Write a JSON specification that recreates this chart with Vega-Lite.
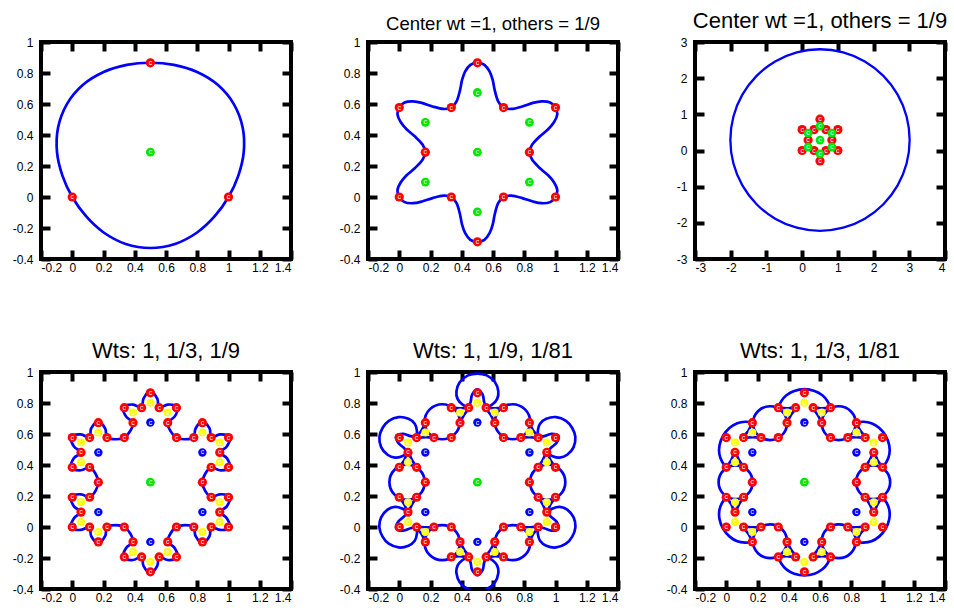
{
"$schema": "https://vega.github.io/schema/vega-lite/v6.json",
"background": "white",
"padding": {"left": 10, "top": 8, "right": 0, "bottom": 0},
"config": {
  "view": {"stroke": "black", "strokeWidth": 4},
  "axis": {"domain": false, "grid": false, "tickColor": "black", "tickWidth": 4, "tickSize": -9, "labelFont": "Liberation Sans", "labelFontSize": 12, "labelColor": "black"},
  "title": {"font": "Liberation Sans", "fontSize": 22, "fontWeight": "normal", "color": "black", "anchor": "middle", "offset": 3, "baseline": "alphabetic"}
},
"datasets": {
  "c1": [
    {"i":0,"x":0.5,"y":0.866},{"i":1,"x":0.349,"y":0.852},{"i":2,"x":0.201,"y":0.806},{"i":3,"x":0.067,"y":0.722},{"i":4,"x":-0.035,"y":0.598},{"i":5,"x":-0.091,"y":0.447},{"i":6,"x":-0.0975,"y":0.289},{"i":7,"x":-0.063,"y":0.138},{"i":8,"x":0,"y":0},{"i":9,"x":0.088,"y":-0.124},{"i":10,"x":0.201,"y":-0.229},{"i":11,"x":0.342,"y":-0.303},{"i":12,"x":0.5,"y":-0.329},{"i":13,"x":0.658,"y":-0.303},{"i":14,"x":0.799,"y":-0.229},{"i":15,"x":0.912,"y":-0.124},{"i":16,"x":1,"y":0},{"i":17,"x":1.063,"y":0.138},{"i":18,"x":1.0975,"y":0.289},{"i":19,"x":1.091,"y":0.447},{"i":20,"x":1.035,"y":0.598},{"i":21,"x":0.933,"y":0.722},{"i":22,"x":0.799,"y":0.806},{"i":23,"x":0.651,"y":0.852}
  ],
  "c2": [
    {"i":0,"x":0.5,"y":0.866},{"i":1,"x":0.455,"y":0.853},{"i":2,"x":0.422,"y":0.81},{"i":3,"x":0.402,"y":0.755},{"i":4,"x":0.388,"y":0.685},{"i":5,"x":0.367,"y":0.617},{"i":6,"x":0.333,"y":0.577},{"i":7,"x":0.282,"y":0.568},{"i":8,"x":0.213,"y":0.584},{"i":9,"x":0.145,"y":0.607},{"i":10,"x":0.088,"y":0.617},{"i":11,"x":0.034,"y":0.61},
    {"i":12,"x":0,"y":0.577},{"i":13,"x":-0.011,"y":0.532},{"i":14,"x":0.01,"y":0.482},{"i":15,"x":0.047,"y":0.437},{"i":16,"x":0.101,"y":0.39},{"i":17,"x":0.149,"y":0.338},{"i":18,"x":0.167,"y":0.288},{"i":19,"x":0.149,"y":0.24},{"i":20,"x":0.101,"y":0.187},{"i":21,"x":0.047,"y":0.14},{"i":22,"x":0.01,"y":0.095},{"i":23,"x":-0.011,"y":0.046},
    {"i":24,"x":0,"y":0},{"i":25,"x":0.034,"y":-0.033},{"i":26,"x":0.088,"y":-0.04},{"i":27,"x":0.145,"y":-0.029},{"i":28,"x":0.213,"y":-0.007},{"i":29,"x":0.282,"y":0.009},{"i":30,"x":0.334,"y":0},{"i":31,"x":0.367,"y":-0.04},{"i":32,"x":0.388,"y":-0.108},{"i":33,"x":0.402,"y":-0.178},{"i":34,"x":0.422,"y":-0.233},{"i":35,"x":0.455,"y":-0.276},
    {"i":36,"x":0.5,"y":-0.289},{"i":37,"x":0.545,"y":-0.276},{"i":38,"x":0.578,"y":-0.233},{"i":39,"x":0.598,"y":-0.178},{"i":40,"x":0.612,"y":-0.108},{"i":41,"x":0.633,"y":-0.04},{"i":42,"x":0.667,"y":0},{"i":43,"x":0.718,"y":0.009},{"i":44,"x":0.787,"y":-0.007},{"i":45,"x":0.855,"y":-0.029},{"i":46,"x":0.912,"y":-0.04},{"i":47,"x":0.966,"y":-0.033},
    {"i":48,"x":1,"y":0},{"i":49,"x":1.011,"y":0.046},{"i":50,"x":0.99,"y":0.095},{"i":51,"x":0.953,"y":0.14},{"i":52,"x":0.899,"y":0.187},{"i":53,"x":0.851,"y":0.24},{"i":54,"x":0.833,"y":0.289},{"i":55,"x":0.851,"y":0.338},{"i":56,"x":0.899,"y":0.39},{"i":57,"x":0.953,"y":0.437},{"i":58,"x":0.99,"y":0.482},{"i":59,"x":1.011,"y":0.532},
    {"i":60,"x":1,"y":0.577},{"i":61,"x":0.966,"y":0.61},{"i":62,"x":0.912,"y":0.617},{"i":63,"x":0.855,"y":0.607},{"i":64,"x":0.787,"y":0.584},{"i":65,"x":0.718,"y":0.568},{"i":66,"x":0.666,"y":0.577},{"i":67,"x":0.633,"y":0.617},{"i":68,"x":0.612,"y":0.685},{"i":69,"x":0.598,"y":0.755},{"i":70,"x":0.578,"y":0.81},{"i":71,"x":0.545,"y":0.853}
  ],
  "c3": [
    {"i":0,"x":3.01,"y":0.289},{"i":1,"x":2.924,"y":0.939},{"i":2,"x":2.674,"y":1.544},{"i":3,"x":2.275,"y":2.064},{"i":4,"x":1.755,"y":2.463},{"i":5,"x":1.15,"y":2.713},{"i":6,"x":0.5,"y":2.799},{"i":7,"x":-0.15,"y":2.713},{"i":8,"x":-0.755,"y":2.463},{"i":9,"x":-1.275,"y":2.064},{"i":10,"x":-1.674,"y":1.544},{"i":11,"x":-1.924,"y":0.939},{"i":12,"x":-2.01,"y":0.289},{"i":13,"x":-1.924,"y":-0.361},{"i":14,"x":-1.674,"y":-0.966},{"i":15,"x":-1.275,"y":-1.486},{"i":16,"x":-0.755,"y":-1.885},{"i":17,"x":-0.15,"y":-2.135},{"i":18,"x":0.5,"y":-2.221},{"i":19,"x":1.15,"y":-2.135},{"i":20,"x":1.755,"y":-1.885},{"i":21,"x":2.275,"y":-1.486},{"i":22,"x":2.674,"y":-0.966},{"i":23,"x":2.924,"y":-0.361}
  ],
  "c4": [
    {"i":0,"x":0.5,"y":0.876},{"i":1,"x":0.456,"y":0.828},{"i":2,"x":0.444,"y":0.77},{"i":3,"x":0.389,"y":0.79},{"i":4,"x":0.326,"y":0.774},{"i":5,"x":0.345,"y":0.712},{"i":6,"x":0.389,"y":0.673},{"i":7,"x":0.371,"y":0.619},{"i":8,"x":0.333,"y":0.577},{"i":9,"x":0.279,"y":0.566},{"i":10,"x":0.223,"y":0.577},{"i":11,"x":0.211,"y":0.635},{"i":12,"x":0.167,"y":0.682},{"i":13,"x":0.121,"y":0.636},{"i":14,"x":0.111,"y":0.578},{"i":15,"x":0.055,"y":0.597},
    {"i":16,"x":-0.009,"y":0.582},{"i":17,"x":0.011,"y":0.52},{"i":18,"x":0.055,"y":0.481},{"i":19,"x":0.01,"y":0.443},{"i":20,"x":-0.007,"y":0.381},{"i":21,"x":0.056,"y":0.366},{"i":22,"x":0.112,"y":0.385},{"i":23,"x":0.15,"y":0.342},{"i":24,"x":0.167,"y":0.288},{"i":25,"x":0.15,"y":0.235},{"i":26,"x":0.112,"y":0.193},{"i":27,"x":0.056,"y":0.211},{"i":28,"x":-0.007,"y":0.197},{"i":29,"x":0.01,"y":0.134},{"i":30,"x":0.055,"y":0.097},{"i":31,"x":0.011,"y":0.057},
    {"i":32,"x":-0.009,"y":-0.005},{"i":33,"x":0.055,"y":-0.019},{"i":34,"x":0.111,"y":-0.001},{"i":35,"x":0.121,"y":-0.058},{"i":36,"x":0.167,"y":-0.105},{"i":37,"x":0.211,"y":-0.057},{"i":38,"x":0.223,"y":0},{"i":39,"x":0.279,"y":0.012},{"i":40,"x":0.334,"y":0},{"i":41,"x":0.371,"y":-0.042},{"i":42,"x":0.389,"y":-0.096},{"i":43,"x":0.345,"y":-0.135},{"i":44,"x":0.326,"y":-0.197},{"i":45,"x":0.389,"y":-0.213},{"i":46,"x":0.444,"y":-0.193},{"i":47,"x":0.456,"y":-0.251},
    {"i":48,"x":0.5,"y":-0.299},{"i":49,"x":0.544,"y":-0.251},{"i":50,"x":0.556,"y":-0.193},{"i":51,"x":0.611,"y":-0.213},{"i":52,"x":0.674,"y":-0.197},{"i":53,"x":0.655,"y":-0.135},{"i":54,"x":0.611,"y":-0.096},{"i":55,"x":0.629,"y":-0.042},{"i":56,"x":0.667,"y":0},{"i":57,"x":0.722,"y":0.012},{"i":58,"x":0.777,"y":0},{"i":59,"x":0.789,"y":-0.057},{"i":60,"x":0.833,"y":-0.105},{"i":61,"x":0.879,"y":-0.058},{"i":62,"x":0.889,"y":-0.001},{"i":63,"x":0.945,"y":-0.019},
    {"i":64,"x":1.009,"y":-0.005},{"i":65,"x":0.989,"y":0.057},{"i":66,"x":0.945,"y":0.097},{"i":67,"x":0.99,"y":0.134},{"i":68,"x":1.007,"y":0.197},{"i":69,"x":0.944,"y":0.211},{"i":70,"x":0.888,"y":0.193},{"i":71,"x":0.85,"y":0.235},{"i":72,"x":0.833,"y":0.289},{"i":73,"x":0.85,"y":0.342},{"i":74,"x":0.888,"y":0.385},{"i":75,"x":0.944,"y":0.366},{"i":76,"x":1.007,"y":0.381},{"i":77,"x":0.99,"y":0.443},{"i":78,"x":0.945,"y":0.481},{"i":79,"x":0.989,"y":0.52},
    {"i":80,"x":1.009,"y":0.582},{"i":81,"x":0.945,"y":0.597},{"i":82,"x":0.889,"y":0.578},{"i":83,"x":0.879,"y":0.636},{"i":84,"x":0.833,"y":0.682},{"i":85,"x":0.789,"y":0.635},{"i":86,"x":0.777,"y":0.577},{"i":87,"x":0.722,"y":0.566},{"i":88,"x":0.666,"y":0.577},{"i":89,"x":0.629,"y":0.619},{"i":90,"x":0.611,"y":0.673},{"i":91,"x":0.655,"y":0.712},{"i":92,"x":0.674,"y":0.774},{"i":93,"x":0.611,"y":0.79},{"i":94,"x":0.556,"y":0.77},{"i":95,"x":0.544,"y":0.828}
  ],
  "arc5": [
    {"g":"k0","i":0,"x":0.444,"y":0.77},{"g":"k0","i":1,"x":0.405,"y":0.79},{"g":"k0","i":2,"x":0.374,"y":0.825},{"g":"k0","i":3,"x":0.366,"y":0.875},{"g":"k0","i":4,"x":0.388,"y":0.935},{"g":"k0","i":5,"x":0.44,"y":0.978},{"g":"k0","i":6,"x":0.5,"y":0.99},{"g":"k0","i":7,"x":0.56,"y":0.978},{"g":"k0","i":8,"x":0.612,"y":0.935},{"g":"k0","i":9,"x":0.634,"y":0.875},{"g":"k0","i":10,"x":0.626,"y":0.825},{"g":"k0","i":11,"x":0.595,"y":0.79},{"g":"k0","i":12,"x":0.556,"y":0.77},
    {"g":"k1","i":0,"x":0.055,"y":0.481},{"g":"k1","i":1,"x":0.018,"y":0.457},{"g":"k1","i":2,"x":-0.027,"y":0.448},{"g":"k1","i":3,"x":-0.075,"y":0.466},{"g":"k1","i":4,"x":-0.116,"y":0.515},{"g":"k1","i":5,"x":-0.127,"y":0.581},{"g":"k1","i":6,"x":-0.107,"y":0.639},{"g":"k1","i":7,"x":-0.067,"y":0.685},{"g":"k1","i":8,"x":-0.004,"y":0.709},{"g":"k1","i":9,"x":0.059,"y":0.698},{"g":"k1","i":10,"x":0.099,"y":0.666},{"g":"k1","i":11,"x":0.113,"y":0.622},{"g":"k1","i":12,"x":0.111,"y":0.578},
    {"g":"k2","i":0,"x":0.111,"y":-0.001},{"g":"k2","i":1,"x":0.113,"y":-0.044},{"g":"k2","i":2,"x":0.099,"y":-0.089},{"g":"k2","i":3,"x":0.059,"y":-0.121},{"g":"k2","i":4,"x":-0.004,"y":-0.132},{"g":"k2","i":5,"x":-0.067,"y":-0.108},{"g":"k2","i":6,"x":-0.107,"y":-0.062},{"g":"k2","i":7,"x":-0.127,"y":-0.004},{"g":"k2","i":8,"x":-0.116,"y":0.062},{"g":"k2","i":9,"x":-0.075,"y":0.112},{"g":"k2","i":10,"x":-0.027,"y":0.13},{"g":"k2","i":11,"x":0.018,"y":0.12},{"g":"k2","i":12,"x":0.055,"y":0.097},
    {"g":"k3","i":0,"x":0.556,"y":-0.193},{"g":"k3","i":1,"x":0.595,"y":-0.213},{"g":"k3","i":2,"x":0.626,"y":-0.248},{"g":"k3","i":3,"x":0.634,"y":-0.298},{"g":"k3","i":4,"x":0.612,"y":-0.358},{"g":"k3","i":5,"x":0.56,"y":-0.401},{"g":"k3","i":6,"x":0.5,"y":-0.413},{"g":"k3","i":7,"x":0.44,"y":-0.401},{"g":"k3","i":8,"x":0.388,"y":-0.358},{"g":"k3","i":9,"x":0.366,"y":-0.298},{"g":"k3","i":10,"x":0.374,"y":-0.248},{"g":"k3","i":11,"x":0.405,"y":-0.213},{"g":"k3","i":12,"x":0.444,"y":-0.193},
    {"g":"k4","i":0,"x":0.945,"y":0.097},{"g":"k4","i":1,"x":0.982,"y":0.12},{"g":"k4","i":2,"x":1.027,"y":0.13},{"g":"k4","i":3,"x":1.075,"y":0.112},{"g":"k4","i":4,"x":1.116,"y":0.062},{"g":"k4","i":5,"x":1.127,"y":-0.004},{"g":"k4","i":6,"x":1.107,"y":-0.062},{"g":"k4","i":7,"x":1.067,"y":-0.108},{"g":"k4","i":8,"x":1.004,"y":-0.132},{"g":"k4","i":9,"x":0.941,"y":-0.121},{"g":"k4","i":10,"x":0.901,"y":-0.089},{"g":"k4","i":11,"x":0.887,"y":-0.044},{"g":"k4","i":12,"x":0.889,"y":-0.001},
    {"g":"k5","i":0,"x":0.889,"y":0.578},{"g":"k5","i":1,"x":0.887,"y":0.622},{"g":"k5","i":2,"x":0.901,"y":0.666},{"g":"k5","i":3,"x":0.941,"y":0.698},{"g":"k5","i":4,"x":1.004,"y":0.709},{"g":"k5","i":5,"x":1.067,"y":0.685},{"g":"k5","i":6,"x":1.107,"y":0.639},{"g":"k5","i":7,"x":1.127,"y":0.581},{"g":"k5","i":8,"x":1.116,"y":0.515},{"g":"k5","i":9,"x":1.075,"y":0.466},{"g":"k5","i":10,"x":1.027,"y":0.448},{"g":"k5","i":11,"x":0.982,"y":0.457},{"g":"k5","i":12,"x":0.945,"y":0.481},
    {"g":"n0","i":0,"x":0.444,"y":0.77},{"g":"n0","i":1,"x":0.457,"y":0.808},{"g":"n0","i":2,"x":0.467,"y":0.855},{"g":"n0","i":3,"x":0.5,"y":0.888},{"g":"n0","i":4,"x":0.533,"y":0.855},{"g":"n0","i":5,"x":0.543,"y":0.808},{"g":"n0","i":6,"x":0.556,"y":0.77},
    {"g":"n1","i":0,"x":0.055,"y":0.481},{"g":"n1","i":1,"x":0.029,"y":0.511},{"g":"n1","i":2,"x":-0.007,"y":0.543},{"g":"n1","i":3,"x":-0.019,"y":0.588},{"g":"n1","i":4,"x":0.026,"y":0.601},{"g":"n1","i":5,"x":0.072,"y":0.586},{"g":"n1","i":6,"x":0.111,"y":0.578},
    {"g":"n2","i":0,"x":0.111,"y":-0.001},{"g":"n2","i":1,"x":0.072,"y":-0.008},{"g":"n2","i":2,"x":0.026,"y":-0.023},{"g":"n2","i":3,"x":-0.019,"y":-0.011},{"g":"n2","i":4,"x":-0.007,"y":0.034},{"g":"n2","i":5,"x":0.029,"y":0.066},{"g":"n2","i":6,"x":0.055,"y":0.097},
    {"g":"n3","i":0,"x":0.556,"y":-0.193},{"g":"n3","i":1,"x":0.543,"y":-0.231},{"g":"n3","i":2,"x":0.533,"y":-0.278},{"g":"n3","i":3,"x":0.5,"y":-0.311},{"g":"n3","i":4,"x":0.467,"y":-0.278},{"g":"n3","i":5,"x":0.457,"y":-0.231},{"g":"n3","i":6,"x":0.444,"y":-0.193},
    {"g":"n4","i":0,"x":0.945,"y":0.097},{"g":"n4","i":1,"x":0.971,"y":0.066},{"g":"n4","i":2,"x":1.007,"y":0.034},{"g":"n4","i":3,"x":1.019,"y":-0.011},{"g":"n4","i":4,"x":0.974,"y":-0.023},{"g":"n4","i":5,"x":0.928,"y":-0.008},{"g":"n4","i":6,"x":0.889,"y":-0.001},
    {"g":"n5","i":0,"x":0.889,"y":0.578},{"g":"n5","i":1,"x":0.928,"y":0.586},{"g":"n5","i":2,"x":0.974,"y":0.601},{"g":"n5","i":3,"x":1.019,"y":0.588},{"g":"n5","i":4,"x":1.007,"y":0.543},{"g":"n5","i":5,"x":0.971,"y":0.511},{"g":"n5","i":6,"x":0.945,"y":0.481}
  ],
  "seg": [
    {"g":"L0","i":0,"x":0.333,"y":0.77},{"g":"L0","i":1,"x":0.389,"y":0.765},{"g":"L0","i":2,"x":0.444,"y":0.77},{"g":"L0","i":3,"x":0.413,"y":0.72},{"g":"L0","i":4,"x":0.389,"y":0.673},
    {"g":"L1","i":0,"x":0,"y":0.385},{"g":"L1","i":1,"x":0.032,"y":0.431},{"g":"L1","i":2,"x":0.055,"y":0.481},{"g":"L1","i":3,"x":0.083,"y":0.429},{"g":"L1","i":4,"x":0.112,"y":0.385},
    {"g":"L2","i":0,"x":0.167,"y":-0.097},{"g":"L2","i":1,"x":0.143,"y":-0.046},{"g":"L2","i":2,"x":0.111,"y":-0.001},{"g":"L2","i":3,"x":0.17,"y":-0.002},{"g":"L2","i":4,"x":0.223,"y":0},
    {"g":"L3","i":0,"x":0.667,"y":-0.193},{"g":"L3","i":1,"x":0.611,"y":-0.188},{"g":"L3","i":2,"x":0.556,"y":-0.193},{"g":"L3","i":3,"x":0.587,"y":-0.143},{"g":"L3","i":4,"x":0.611,"y":-0.096},
    {"g":"L4","i":0,"x":1.0,"y":0.193},{"g":"L4","i":1,"x":0.968,"y":0.147},{"g":"L4","i":2,"x":0.945,"y":0.097},{"g":"L4","i":3,"x":0.917,"y":0.148},{"g":"L4","i":4,"x":0.888,"y":0.193},
    {"g":"L5","i":0,"x":0.833,"y":0.674},{"g":"L5","i":1,"x":0.857,"y":0.623},{"g":"L5","i":2,"x":0.889,"y":0.578},{"g":"L5","i":3,"x":0.83,"y":0.58},{"g":"L5","i":4,"x":0.777,"y":0.577},
    {"g":"R0","i":0,"x":0.667,"y":0.77},{"g":"R0","i":1,"x":0.611,"y":0.765},{"g":"R0","i":2,"x":0.556,"y":0.77},{"g":"R0","i":3,"x":0.587,"y":0.72},{"g":"R0","i":4,"x":0.611,"y":0.673},
    {"g":"R1","i":0,"x":0.167,"y":0.674},{"g":"R1","i":1,"x":0.143,"y":0.623},{"g":"R1","i":2,"x":0.111,"y":0.578},{"g":"R1","i":3,"x":0.17,"y":0.58},{"g":"R1","i":4,"x":0.223,"y":0.577},
    {"g":"R2","i":0,"x":0,"y":0.193},{"g":"R2","i":1,"x":0.032,"y":0.147},{"g":"R2","i":2,"x":0.055,"y":0.097},{"g":"R2","i":3,"x":0.083,"y":0.148},{"g":"R2","i":4,"x":0.112,"y":0.193},
    {"g":"R3","i":0,"x":0.333,"y":-0.193},{"g":"R3","i":1,"x":0.389,"y":-0.188},{"g":"R3","i":2,"x":0.444,"y":-0.193},{"g":"R3","i":3,"x":0.413,"y":-0.143},{"g":"R3","i":4,"x":0.389,"y":-0.096},
    {"g":"R4","i":0,"x":0.833,"y":-0.097},{"g":"R4","i":1,"x":0.857,"y":-0.046},{"g":"R4","i":2,"x":0.889,"y":-0.001},{"g":"R4","i":3,"x":0.83,"y":-0.002},{"g":"R4","i":4,"x":0.777,"y":0},
    {"g":"R5","i":0,"x":1.0,"y":0.385},{"g":"R5","i":1,"x":0.968,"y":0.431},{"g":"R5","i":2,"x":0.945,"y":0.481},{"g":"R5","i":3,"x":0.917,"y":0.429},{"g":"R5","i":4,"x":0.888,"y":0.385}
  ],
  "circ5": [
    {"g":1,"i":0,"x":0.388,"y":0.679},{"g":1,"i":1,"x":0.355,"y":0.759},{"g":1,"i":2,"x":0.275,"y":0.792},{"g":1,"i":3,"x":0.195,"y":0.759},{"g":1,"i":4,"x":0.162,"y":0.679},{"g":1,"i":5,"x":0.195,"y":0.599},{"g":1,"i":6,"x":0.275,"y":0.566},{"g":1,"i":7,"x":0.355,"y":0.599},
    {"g":2,"i":0,"x":0.163,"y":0.289},{"g":2,"i":1,"x":0.13,"y":0.369},{"g":2,"i":2,"x":0.05,"y":0.402},{"g":2,"i":3,"x":-0.03,"y":0.369},{"g":2,"i":4,"x":-0.063,"y":0.289},{"g":2,"i":5,"x":-0.03,"y":0.209},{"g":2,"i":6,"x":0.05,"y":0.176},{"g":2,"i":7,"x":0.13,"y":0.209},
    {"g":3,"i":0,"x":0.388,"y":-0.101},{"g":3,"i":1,"x":0.355,"y":-0.021},{"g":3,"i":2,"x":0.275,"y":0.012},{"g":3,"i":3,"x":0.195,"y":-0.021},{"g":3,"i":4,"x":0.162,"y":-0.101},{"g":3,"i":5,"x":0.195,"y":-0.181},{"g":3,"i":6,"x":0.275,"y":-0.214},{"g":3,"i":7,"x":0.355,"y":-0.181},
    {"g":4,"i":0,"x":0.838,"y":-0.101},{"g":4,"i":1,"x":0.805,"y":-0.021},{"g":4,"i":2,"x":0.725,"y":0.012},{"g":4,"i":3,"x":0.645,"y":-0.021},{"g":4,"i":4,"x":0.612,"y":-0.101},{"g":4,"i":5,"x":0.645,"y":-0.181},{"g":4,"i":6,"x":0.725,"y":-0.214},{"g":4,"i":7,"x":0.805,"y":-0.181},
    {"g":5,"i":0,"x":1.063,"y":0.289},{"g":5,"i":1,"x":1.03,"y":0.369},{"g":5,"i":2,"x":0.95,"y":0.402},{"g":5,"i":3,"x":0.87,"y":0.369},{"g":5,"i":4,"x":0.837,"y":0.289},{"g":5,"i":5,"x":0.87,"y":0.209},{"g":5,"i":6,"x":0.95,"y":0.176},{"g":5,"i":7,"x":1.03,"y":0.209},
    {"g":6,"i":0,"x":0.838,"y":0.679},{"g":6,"i":1,"x":0.805,"y":0.759},{"g":6,"i":2,"x":0.725,"y":0.792},{"g":6,"i":3,"x":0.645,"y":0.759},{"g":6,"i":4,"x":0.612,"y":0.679},{"g":6,"i":5,"x":0.645,"y":0.599},{"g":6,"i":6,"x":0.725,"y":0.566},{"g":6,"i":7,"x":0.805,"y":0.599}
  ],
  "cap6": [
    {"g":0,"i":0,"x":0.333,"y":0.77},{"g":0,"i":1,"x":0.352,"y":0.812},{"g":0,"i":2,"x":0.385,"y":0.85},{"g":0,"i":3,"x":0.435,"y":0.878},{"g":0,"i":4,"x":0.5,"y":0.889},{"g":0,"i":5,"x":0.565,"y":0.878},{"g":0,"i":6,"x":0.615,"y":0.85},{"g":0,"i":7,"x":0.648,"y":0.812},{"g":0,"i":8,"x":0.667,"y":0.77},
    {"g":1,"i":0,"x":0,"y":0.385},{"g":1,"i":1,"x":-0.027,"y":0.422},{"g":1,"i":2,"x":-0.044,"y":0.47},{"g":1,"i":3,"x":-0.043,"y":0.527},{"g":1,"i":4,"x":-0.02,"y":0.589},{"g":1,"i":5,"x":0.022,"y":0.64},{"g":1,"i":6,"x":0.071,"y":0.669},{"g":1,"i":7,"x":0.121,"y":0.679},{"g":1,"i":8,"x":0.167,"y":0.674},
    {"g":2,"i":0,"x":0.167,"y":-0.097},{"g":2,"i":1,"x":0.121,"y":-0.101},{"g":2,"i":2,"x":0.071,"y":-0.092},{"g":2,"i":3,"x":0.022,"y":-0.062},{"g":2,"i":4,"x":-0.02,"y":-0.012},{"g":2,"i":5,"x":-0.043,"y":0.05},{"g":2,"i":6,"x":-0.044,"y":0.108},{"g":2,"i":7,"x":-0.027,"y":0.155},{"g":2,"i":8,"x":0,"y":0.193},
    {"g":3,"i":0,"x":0.667,"y":-0.193},{"g":3,"i":1,"x":0.648,"y":-0.235},{"g":3,"i":2,"x":0.615,"y":-0.273},{"g":3,"i":3,"x":0.565,"y":-0.301},{"g":3,"i":4,"x":0.5,"y":-0.312},{"g":3,"i":5,"x":0.435,"y":-0.301},{"g":3,"i":6,"x":0.385,"y":-0.273},{"g":3,"i":7,"x":0.352,"y":-0.235},{"g":3,"i":8,"x":0.333,"y":-0.193},
    {"g":4,"i":0,"x":1.0,"y":0.193},{"g":4,"i":1,"x":1.027,"y":0.155},{"g":4,"i":2,"x":1.044,"y":0.108},{"g":4,"i":3,"x":1.043,"y":0.05},{"g":4,"i":4,"x":1.02,"y":-0.012},{"g":4,"i":5,"x":0.978,"y":-0.062},{"g":4,"i":6,"x":0.929,"y":-0.092},{"g":4,"i":7,"x":0.879,"y":-0.101},{"g":4,"i":8,"x":0.833,"y":-0.097},
    {"g":5,"i":0,"x":0.833,"y":0.674},{"g":5,"i":1,"x":0.879,"y":0.679},{"g":5,"i":2,"x":0.929,"y":0.669},{"g":5,"i":3,"x":0.978,"y":0.64},{"g":5,"i":4,"x":1.02,"y":0.589},{"g":5,"i":5,"x":1.043,"y":0.527},{"g":5,"i":6,"x":1.044,"y":0.47},{"g":5,"i":7,"x":1.027,"y":0.422},{"g":5,"i":8,"x":1.0,"y":0.385}
  ],
  "circ6": [
    {"g":1,"i":0,"x":0.389,"y":0.67},{"g":1,"i":1,"x":0.357,"y":0.747},{"g":1,"i":2,"x":0.28,"y":0.779},{"g":1,"i":3,"x":0.203,"y":0.747},{"g":1,"i":4,"x":0.171,"y":0.67},{"g":1,"i":5,"x":0.203,"y":0.593},{"g":1,"i":6,"x":0.28,"y":0.561},{"g":1,"i":7,"x":0.357,"y":0.593},
    {"g":2,"i":0,"x":0.169,"y":0.289},{"g":2,"i":1,"x":0.137,"y":0.366},{"g":2,"i":2,"x":0.06,"y":0.398},{"g":2,"i":3,"x":-0.017,"y":0.366},{"g":2,"i":4,"x":-0.049,"y":0.289},{"g":2,"i":5,"x":-0.017,"y":0.212},{"g":2,"i":6,"x":0.06,"y":0.18},{"g":2,"i":7,"x":0.137,"y":0.212},
    {"g":3,"i":0,"x":0.389,"y":-0.092},{"g":3,"i":1,"x":0.357,"y":-0.015},{"g":3,"i":2,"x":0.28,"y":0.017},{"g":3,"i":3,"x":0.203,"y":-0.015},{"g":3,"i":4,"x":0.171,"y":-0.092},{"g":3,"i":5,"x":0.203,"y":-0.169},{"g":3,"i":6,"x":0.28,"y":-0.201},{"g":3,"i":7,"x":0.357,"y":-0.169},
    {"g":4,"i":0,"x":0.829,"y":-0.092},{"g":4,"i":1,"x":0.797,"y":-0.015},{"g":4,"i":2,"x":0.72,"y":0.017},{"g":4,"i":3,"x":0.643,"y":-0.015},{"g":4,"i":4,"x":0.611,"y":-0.092},{"g":4,"i":5,"x":0.643,"y":-0.169},{"g":4,"i":6,"x":0.72,"y":-0.201},{"g":4,"i":7,"x":0.797,"y":-0.169},
    {"g":5,"i":0,"x":1.049,"y":0.289},{"g":5,"i":1,"x":1.017,"y":0.366},{"g":5,"i":2,"x":0.94,"y":0.398},{"g":5,"i":3,"x":0.863,"y":0.366},{"g":5,"i":4,"x":0.831,"y":0.289},{"g":5,"i":5,"x":0.863,"y":0.212},{"g":5,"i":6,"x":0.94,"y":0.18},{"g":5,"i":7,"x":1.017,"y":0.212},
    {"g":6,"i":0,"x":0.829,"y":0.67},{"g":6,"i":1,"x":0.797,"y":0.747},{"g":6,"i":2,"x":0.72,"y":0.779},{"g":6,"i":3,"x":0.643,"y":0.747},{"g":6,"i":4,"x":0.611,"y":0.67},{"g":6,"i":5,"x":0.643,"y":0.593},{"g":6,"i":6,"x":0.72,"y":0.561},{"g":6,"i":7,"x":0.797,"y":0.593}
  ],
  "pts1": [
    {"x":0,"y":0,"c":"r"},{"x":1,"y":0,"c":"r"},{"x":0.5,"y":0.866,"c":"r"},{"x":0.5,"y":0.289,"c":"g"}
  ],
  "pts2": [
    {"x":0,"y":0,"c":"r"},{"x":1,"y":0,"c":"r"},{"x":0.5,"y":0.866,"c":"r"},{"x":0,"y":0.577,"c":"r"},{"x":1,"y":0.577,"c":"r"},{"x":0.5,"y":-0.289,"c":"r"},{"x":0.333,"y":0,"c":"r"},{"x":0.667,"y":0,"c":"r"},{"x":0.167,"y":0.289,"c":"r"},{"x":0.833,"y":0.289,"c":"r"},{"x":0.333,"y":0.577,"c":"r"},{"x":0.667,"y":0.577,"c":"r"},
    {"x":0.5,"y":0.289,"c":"g"},{"x":0.5,"y":0.674,"c":"g"},{"x":0.167,"y":0.481,"c":"g"},{"x":0.833,"y":0.481,"c":"g"},{"x":0.167,"y":0.096,"c":"g"},{"x":0.833,"y":0.096,"c":"g"},{"x":0.5,"y":-0.096,"c":"g"}
  ],
  "pts3": [
    {"x":0.5,"y":0.866,"c":"r"},{"x":0.444,"y":0.77,"c":"r"},{"x":0.556,"y":0.77,"c":"r"},{"x":0.333,"y":0.77,"c":"r"},{"x":0.667,"y":0.77,"c":"r"},{"x":0.389,"y":0.673,"c":"r"},{"x":0.611,"y":0.673,"c":"r"},{"x":0.333,"y":0.577,"c":"r"},{"x":0.667,"y":0.577,"c":"r"},
    {"x":0.111,"y":0.577,"c":"r"},{"x":0.167,"y":0.673,"c":"r"},{"x":0.222,"y":0.577,"c":"r"},{"x":0,"y":0.577,"c":"r"},{"x":0.056,"y":0.481,"c":"r"},{"x":0,"y":0.385,"c":"r"},{"x":0.111,"y":0.385,"c":"r"},{"x":0.167,"y":0.289,"c":"r"},
    {"x":0.889,"y":0.577,"c":"r"},{"x":0.833,"y":0.673,"c":"r"},{"x":0.778,"y":0.577,"c":"r"},{"x":1,"y":0.577,"c":"r"},{"x":0.944,"y":0.481,"c":"r"},{"x":1,"y":0.385,"c":"r"},{"x":0.889,"y":0.385,"c":"r"},{"x":0.833,"y":0.289,"c":"r"},
    {"x":0.5,"y":-0.289,"c":"r"},{"x":0.556,"y":-0.193,"c":"r"},{"x":0.444,"y":-0.193,"c":"r"},{"x":0.667,"y":-0.193,"c":"r"},{"x":0.333,"y":-0.193,"c":"r"},{"x":0.611,"y":-0.096,"c":"r"},{"x":0.389,"y":-0.096,"c":"r"},{"x":0.667,"y":0,"c":"r"},{"x":0.333,"y":0,"c":"r"},
    {"x":0.889,"y":0,"c":"r"},{"x":0.833,"y":-0.096,"c":"r"},{"x":0.778,"y":0,"c":"r"},{"x":1,"y":0,"c":"r"},{"x":0.944,"y":0.096,"c":"r"},{"x":1,"y":0.192,"c":"r"},{"x":0.889,"y":0.192,"c":"r"},
    {"x":0.111,"y":0,"c":"r"},{"x":0.167,"y":-0.096,"c":"r"},{"x":0.222,"y":0,"c":"r"},{"x":0,"y":0,"c":"r"},{"x":0.056,"y":0.096,"c":"r"},{"x":0,"y":0.192,"c":"r"},{"x":0.111,"y":0.192,"c":"r"},
    {"x":0.5,"y":0.802,"c":"y"},{"x":0.389,"y":0.738,"c":"y"},{"x":0.611,"y":0.738,"c":"y"},{"x":0.056,"y":0.545,"c":"y"},{"x":0.167,"y":0.609,"c":"y"},{"x":0.056,"y":0.417,"c":"y"},{"x":0.944,"y":0.545,"c":"y"},{"x":0.833,"y":0.609,"c":"y"},{"x":0.944,"y":0.417,"c":"y"},
    {"x":0.5,"y":-0.225,"c":"y"},{"x":0.611,"y":-0.161,"c":"y"},{"x":0.389,"y":-0.161,"c":"y"},{"x":0.944,"y":0.032,"c":"y"},{"x":0.833,"y":-0.032,"c":"y"},{"x":0.944,"y":0.16,"c":"y"},{"x":0.056,"y":0.032,"c":"y"},{"x":0.167,"y":-0.032,"c":"y"},{"x":0.056,"y":0.16,"c":"y"},
    {"x":0.5,"y":0.674,"c":"b"},{"x":0.167,"y":0.481,"c":"b"},{"x":0.833,"y":0.481,"c":"b"},{"x":0.167,"y":0.096,"c":"b"},{"x":0.833,"y":0.096,"c":"b"},{"x":0.5,"y":-0.096,"c":"b"},
    {"x":0.5,"y":0.289,"c":"g"}
  ]
},
"columns": 3,
"bounds": "flush",
"spacing": {"row": 113, "column": 77},
"resolve": {"scale": {"x": "independent", "y": "independent"}},
"concat": [
  {
    "width": 250, "height": 217,
    "layer": [
      {"data": {"name": "c1"}, "mark": {"type": "line", "interpolate": "cardinal-closed", "color": "#0000ff", "strokeWidth": 2.7, "clip": true},
       "encoding": {"x": {"field": "x", "type": "quantitative", "scale": {"domain": [-0.2, 1.4], "nice": false, "zero": false}, "axis": {"orient": "bottom", "title": null, "values": [-0.2,0,0.2,0.4,0.6,0.8,1,1.2,1.4], "labelExpr": "'' + datum.value", "labelPadding": 12}},
                    "y": {"field": "y", "type": "quantitative", "scale": {"domain": [-0.4, 1], "nice": false, "zero": false}, "axis": {"orient": "left", "title": null, "values": [-0.4,-0.2,0,0.2,0.4,0.6,0.8,1], "labelExpr": "'' + datum.value", "labelPadding": 17}},
                    "order": {"field": "i", "type": "quantitative"}}},
      {"data": {"name": "pts1"}, "mark": {"type": "circle", "opacity": 1},
       "encoding": {"x": {"field": "x", "type": "quantitative", "scale": {"domain": [-0.2, 1.4], "nice": false, "zero": false}, "axis": null},
                    "y": {"field": "y", "type": "quantitative", "scale": {"domain": [-0.4, 1], "nice": false, "zero": false}, "axis": null},
                    "color": {"field": "c", "type": "nominal", "scale": {"domain": ["r","g","b","y"], "range": ["#ff0000","#00e600","#0000ff","#ffff00"]}, "legend": null},
                    "size": {"field": "c", "type": "nominal", "scale": {"domain": ["r","g","b","y"], "range": [85,64,58,90]}, "legend": null}}},
      {"data": {"name": "pts1"}, "mark": {"type": "text", "text": "c", "fontSize": 7, "color": "white", "font": "Liberation Sans", "baseline": "middle", "align": "center"},
       "encoding": {"x": {"field": "x", "type": "quantitative", "scale": {"domain": [-0.2, 1.4], "nice": false, "zero": false}, "axis": null},
                    "y": {"field": "y", "type": "quantitative", "scale": {"domain": [-0.4, 1], "nice": false, "zero": false}, "axis": null}}},
      {"data": {"name": "pts1"}, "mark": {"type": "point", "opacity": 0},
       "encoding": {"x": {"field": "x", "type": "quantitative", "scale": {"domain": [-0.2, 1.4], "nice": false, "zero": false}, "axis": {"orient": "top", "title": null, "labels": false, "values": [-0.2,0,0.2,0.4,0.6,0.8,1,1.2,1.4]}},
                    "y": {"field": "y", "type": "quantitative", "scale": {"domain": [-0.4, 1], "nice": false, "zero": false}, "axis": {"orient": "right", "title": null, "labels": false, "values": [-0.4,-0.2,0,0.2,0.4,0.6,0.8,1]}}}}
    ],
    "resolve": {"axis": {"x": "independent", "y": "independent"}}
  },
  {
    "width": 250, "height": 217,
    "title": {"text": "Center wt =1, others = 1/9", "fontSize": 18.5},
    "layer": [
      {"data": {"name": "c2"}, "mark": {"type": "line", "interpolate": "cardinal-closed", "color": "#0000ff", "strokeWidth": 2.7, "clip": true},
       "encoding": {"x": {"field": "x", "type": "quantitative", "scale": {"domain": [-0.2, 1.4], "nice": false, "zero": false}, "axis": {"orient": "bottom", "title": null, "values": [-0.2,0,0.2,0.4,0.6,0.8,1,1.2,1.4], "labelExpr": "'' + datum.value", "labelPadding": 12}},
                    "y": {"field": "y", "type": "quantitative", "scale": {"domain": [-0.4, 1], "nice": false, "zero": false}, "axis": {"orient": "left", "title": null, "values": [-0.4,-0.2,0,0.2,0.4,0.6,0.8,1], "labelExpr": "'' + datum.value", "labelPadding": 17}},
                    "order": {"field": "i", "type": "quantitative"}}},
      {"data": {"name": "pts2"}, "mark": {"type": "circle", "opacity": 1},
       "encoding": {"x": {"field": "x", "type": "quantitative", "scale": {"domain": [-0.2, 1.4], "nice": false, "zero": false}, "axis": null},
                    "y": {"field": "y", "type": "quantitative", "scale": {"domain": [-0.4, 1], "nice": false, "zero": false}, "axis": null},
                    "color": {"field": "c", "type": "nominal", "scale": {"domain": ["r","g","b","y"], "range": ["#ff0000","#00e600","#0000ff","#ffff00"]}, "legend": null},
                    "size": {"field": "c", "type": "nominal", "scale": {"domain": ["r","g","b","y"], "range": [85,64,58,90]}, "legend": null}}},
      {"data": {"name": "pts2"}, "mark": {"type": "text", "text": "c", "fontSize": 7, "color": "white", "font": "Liberation Sans", "baseline": "middle", "align": "center"},
       "encoding": {"x": {"field": "x", "type": "quantitative", "scale": {"domain": [-0.2, 1.4], "nice": false, "zero": false}, "axis": null},
                    "y": {"field": "y", "type": "quantitative", "scale": {"domain": [-0.4, 1], "nice": false, "zero": false}, "axis": null}}},
      {"data": {"name": "pts2"}, "mark": {"type": "point", "opacity": 0},
       "encoding": {"x": {"field": "x", "type": "quantitative", "scale": {"domain": [-0.2, 1.4], "nice": false, "zero": false}, "axis": {"orient": "top", "title": null, "labels": false, "values": [-0.2,0,0.2,0.4,0.6,0.8,1,1.2,1.4]}},
                    "y": {"field": "y", "type": "quantitative", "scale": {"domain": [-0.4, 1], "nice": false, "zero": false}, "axis": {"orient": "right", "title": null, "labels": false, "values": [-0.4,-0.2,0,0.2,0.4,0.6,0.8,1]}}}}
    ],
    "resolve": {"axis": {"x": "independent", "y": "independent"}}
  },
  {
    "width": 250, "height": 217,
    "title": {"text": "Center wt =1, others = 1/9"},
    "layer": [
      {"data": {"name": "c3"}, "mark": {"type": "line", "interpolate": "cardinal-closed", "color": "#0000ff", "strokeWidth": 2.3, "clip": true},
       "encoding": {"x": {"field": "x", "type": "quantitative", "scale": {"domain": [-3, 4], "nice": false, "zero": false}, "axis": {"orient": "bottom", "title": null, "values": [-3,-2,-1,0,1,2,3,4], "labelExpr": "'' + datum.value", "labelPadding": 12}},
                    "y": {"field": "y", "type": "quantitative", "scale": {"domain": [-3, 3], "nice": false, "zero": false}, "axis": {"orient": "left", "title": null, "values": [-3,-2,-1,0,1,2,3], "labelExpr": "'' + datum.value", "labelPadding": 17}},
                    "order": {"field": "i", "type": "quantitative"}}},
      {"data": {"name": "pts2"}, "mark": {"type": "circle", "opacity": 1},
       "encoding": {"x": {"field": "x", "type": "quantitative", "scale": {"domain": [-3, 4], "nice": false, "zero": false}, "axis": null},
                    "y": {"field": "y", "type": "quantitative", "scale": {"domain": [-3, 3], "nice": false, "zero": false}, "axis": null},
                    "color": {"field": "c", "type": "nominal", "scale": {"domain": ["r","g","b","y"], "range": ["#ff0000","#00e600","#0000ff","#ffff00"]}, "legend": null},
                    "size": {"field": "c", "type": "nominal", "scale": {"domain": ["r","g","b","y"], "range": [85,64,58,90]}, "legend": null}}},
      {"data": {"name": "pts2"}, "mark": {"type": "text", "text": "c", "fontSize": 7, "color": "white", "font": "Liberation Sans", "baseline": "middle", "align": "center"},
       "encoding": {"x": {"field": "x", "type": "quantitative", "scale": {"domain": [-3, 4], "nice": false, "zero": false}, "axis": null},
                    "y": {"field": "y", "type": "quantitative", "scale": {"domain": [-3, 3], "nice": false, "zero": false}, "axis": null}}},
      {"data": {"name": "pts2"}, "mark": {"type": "point", "opacity": 0},
       "encoding": {"x": {"field": "x", "type": "quantitative", "scale": {"domain": [-3, 4], "nice": false, "zero": false}, "axis": {"orient": "top", "title": null, "labels": false, "values": [-3,-2,-1,0,1,2,3,4]}},
                    "y": {"field": "y", "type": "quantitative", "scale": {"domain": [-3, 3], "nice": false, "zero": false}, "axis": {"orient": "right", "title": null, "labels": false, "values": [-3,-2,-1,0,1,2,3]}}}}
    ],
    "resolve": {"axis": {"x": "independent", "y": "independent"}}
  },
  {
    "width": 250, "height": 217,
    "title": {"text": "Wts: 1, 1/3, 1/9"},
    "layer": [
      {"data": {"name": "c4"}, "mark": {"type": "line", "interpolate": "cardinal-closed", "color": "#0000ff", "strokeWidth": 2.7, "clip": true},
       "encoding": {"x": {"field": "x", "type": "quantitative", "scale": {"domain": [-0.2, 1.4], "nice": false, "zero": false}, "axis": {"orient": "bottom", "title": null, "values": [-0.2,0,0.2,0.4,0.6,0.8,1,1.2,1.4], "labelExpr": "'' + datum.value", "labelPadding": 12}},
                    "y": {"field": "y", "type": "quantitative", "scale": {"domain": [-0.4, 1], "nice": false, "zero": false}, "axis": {"orient": "left", "title": null, "values": [-0.4,-0.2,0,0.2,0.4,0.6,0.8,1], "labelExpr": "'' + datum.value", "labelPadding": 17}},
                    "order": {"field": "i", "type": "quantitative"}}},
      {"data": {"name": "pts3"}, "mark": {"type": "circle", "opacity": 1},
       "encoding": {"x": {"field": "x", "type": "quantitative", "scale": {"domain": [-0.2, 1.4], "nice": false, "zero": false}, "axis": null},
                    "y": {"field": "y", "type": "quantitative", "scale": {"domain": [-0.4, 1], "nice": false, "zero": false}, "axis": null},
                    "color": {"field": "c", "type": "nominal", "scale": {"domain": ["r","g","b","y"], "range": ["#ff0000","#00e600","#0000ff","#ffff00"]}, "legend": null},
                    "size": {"field": "c", "type": "nominal", "scale": {"domain": ["r","g","b","y"], "range": [85,64,58,90]}, "legend": null}}},
      {"data": {"name": "pts3"}, "mark": {"type": "text", "text": "c", "fontSize": 7, "color": "white", "font": "Liberation Sans", "baseline": "middle", "align": "center"},
       "encoding": {"x": {"field": "x", "type": "quantitative", "scale": {"domain": [-0.2, 1.4], "nice": false, "zero": false}, "axis": null},
                    "y": {"field": "y", "type": "quantitative", "scale": {"domain": [-0.4, 1], "nice": false, "zero": false}, "axis": null}}},
      {"data": {"name": "pts3"}, "mark": {"type": "point", "opacity": 0},
       "encoding": {"x": {"field": "x", "type": "quantitative", "scale": {"domain": [-0.2, 1.4], "nice": false, "zero": false}, "axis": {"orient": "top", "title": null, "labels": false, "values": [-0.2,0,0.2,0.4,0.6,0.8,1,1.2,1.4]}},
                    "y": {"field": "y", "type": "quantitative", "scale": {"domain": [-0.4, 1], "nice": false, "zero": false}, "axis": {"orient": "right", "title": null, "labels": false, "values": [-0.4,-0.2,0,0.2,0.4,0.6,0.8,1]}}}}
    ],
    "resolve": {"axis": {"x": "independent", "y": "independent"}}
  },
  {
    "width": 250, "height": 217,
    "title": {"text": "Wts: 1, 1/9, 1/81"},
    "layer": [
      {"data": {"name": "circ5"}, "mark": {"type": "line", "interpolate": "cardinal-closed", "color": "#0000ff", "strokeWidth": 2.7, "clip": true},
       "encoding": {"x": {"field": "x", "type": "quantitative", "scale": {"domain": [-0.2, 1.4], "nice": false, "zero": false}, "axis": {"orient": "bottom", "title": null, "values": [-0.2,0,0.2,0.4,0.6,0.8,1,1.2,1.4], "labelExpr": "'' + datum.value", "labelPadding": 12}},
                    "y": {"field": "y", "type": "quantitative", "scale": {"domain": [-0.4, 1], "nice": false, "zero": false}, "axis": {"orient": "left", "title": null, "values": [-0.4,-0.2,0,0.2,0.4,0.6,0.8,1], "labelExpr": "'' + datum.value", "labelPadding": 17}},
                    "order": {"field": "i", "type": "quantitative"}, "detail": {"field": "g", "type": "nominal"}}},
      {"data": {"name": "arc5"}, "mark": {"type": "line", "interpolate": "cardinal", "color": "#0000ff", "strokeWidth": 2.7, "clip": true},
       "encoding": {"x": {"field": "x", "type": "quantitative", "scale": {"domain": [-0.2, 1.4], "nice": false, "zero": false}, "axis": null},
                    "y": {"field": "y", "type": "quantitative", "scale": {"domain": [-0.4, 1], "nice": false, "zero": false}, "axis": null},
                    "order": {"field": "i", "type": "quantitative"}, "detail": {"field": "g", "type": "nominal"}}},
      {"data": {"name": "seg"}, "mark": {"type": "line", "interpolate": "cardinal", "color": "#0000ff", "strokeWidth": 2.7, "clip": true},
       "encoding": {"x": {"field": "x", "type": "quantitative", "scale": {"domain": [-0.2, 1.4], "nice": false, "zero": false}, "axis": null},
                    "y": {"field": "y", "type": "quantitative", "scale": {"domain": [-0.4, 1], "nice": false, "zero": false}, "axis": null},
                    "order": {"field": "i", "type": "quantitative"}, "detail": {"field": "g", "type": "nominal"}}},
      {"data": {"name": "pts3"}, "mark": {"type": "circle", "opacity": 1},
       "encoding": {"x": {"field": "x", "type": "quantitative", "scale": {"domain": [-0.2, 1.4], "nice": false, "zero": false}, "axis": null},
                    "y": {"field": "y", "type": "quantitative", "scale": {"domain": [-0.4, 1], "nice": false, "zero": false}, "axis": null},
                    "color": {"field": "c", "type": "nominal", "scale": {"domain": ["r","g","b","y"], "range": ["#ff0000","#00e600","#0000ff","#ffff00"]}, "legend": null},
                    "size": {"field": "c", "type": "nominal", "scale": {"domain": ["r","g","b","y"], "range": [85,64,58,90]}, "legend": null}}},
      {"data": {"name": "pts3"}, "mark": {"type": "text", "text": "c", "fontSize": 7, "color": "white", "font": "Liberation Sans", "baseline": "middle", "align": "center"},
       "encoding": {"x": {"field": "x", "type": "quantitative", "scale": {"domain": [-0.2, 1.4], "nice": false, "zero": false}, "axis": null},
                    "y": {"field": "y", "type": "quantitative", "scale": {"domain": [-0.4, 1], "nice": false, "zero": false}, "axis": null}}},
      {"data": {"name": "pts3"}, "mark": {"type": "point", "opacity": 0},
       "encoding": {"x": {"field": "x", "type": "quantitative", "scale": {"domain": [-0.2, 1.4], "nice": false, "zero": false}, "axis": {"orient": "top", "title": null, "labels": false, "values": [-0.2,0,0.2,0.4,0.6,0.8,1,1.2,1.4]}},
                    "y": {"field": "y", "type": "quantitative", "scale": {"domain": [-0.4, 1], "nice": false, "zero": false}, "axis": {"orient": "right", "title": null, "labels": false, "values": [-0.4,-0.2,0,0.2,0.4,0.6,0.8,1]}}}}
    ],
    "resolve": {"axis": {"x": "independent", "y": "independent"}}
  },
  {
    "width": 250, "height": 217,
    "title": {"text": "Wts: 1, 1/3, 1/81"},
    "layer": [
      {"data": {"name": "circ6"}, "mark": {"type": "line", "interpolate": "cardinal-closed", "color": "#0000ff", "strokeWidth": 2.7, "clip": true},
       "encoding": {"x": {"field": "x", "type": "quantitative", "scale": {"domain": [-0.2, 1.4], "nice": false, "zero": false}, "axis": {"orient": "bottom", "title": null, "values": [-0.2,0,0.2,0.4,0.6,0.8,1,1.2,1.4], "labelExpr": "'' + datum.value", "labelPadding": 12}},
                    "y": {"field": "y", "type": "quantitative", "scale": {"domain": [-0.4, 1], "nice": false, "zero": false}, "axis": {"orient": "left", "title": null, "values": [-0.4,-0.2,0,0.2,0.4,0.6,0.8,1], "labelExpr": "'' + datum.value", "labelPadding": 17}},
                    "order": {"field": "i", "type": "quantitative"}, "detail": {"field": "g", "type": "nominal"}}},
      {"data": {"name": "cap6"}, "mark": {"type": "line", "interpolate": "cardinal", "color": "#0000ff", "strokeWidth": 2.7, "clip": true},
       "encoding": {"x": {"field": "x", "type": "quantitative", "scale": {"domain": [-0.2, 1.4], "nice": false, "zero": false}, "axis": null},
                    "y": {"field": "y", "type": "quantitative", "scale": {"domain": [-0.4, 1], "nice": false, "zero": false}, "axis": null},
                    "order": {"field": "i", "type": "quantitative"}, "detail": {"field": "g", "type": "nominal"}}},
      {"data": {"name": "seg"}, "mark": {"type": "line", "interpolate": "cardinal", "color": "#0000ff", "strokeWidth": 2.7, "clip": true},
       "encoding": {"x": {"field": "x", "type": "quantitative", "scale": {"domain": [-0.2, 1.4], "nice": false, "zero": false}, "axis": null},
                    "y": {"field": "y", "type": "quantitative", "scale": {"domain": [-0.4, 1], "nice": false, "zero": false}, "axis": null},
                    "order": {"field": "i", "type": "quantitative"}, "detail": {"field": "g", "type": "nominal"}}},
      {"data": {"name": "pts3"}, "mark": {"type": "circle", "opacity": 1},
       "encoding": {"x": {"field": "x", "type": "quantitative", "scale": {"domain": [-0.2, 1.4], "nice": false, "zero": false}, "axis": null},
                    "y": {"field": "y", "type": "quantitative", "scale": {"domain": [-0.4, 1], "nice": false, "zero": false}, "axis": null},
                    "color": {"field": "c", "type": "nominal", "scale": {"domain": ["r","g","b","y"], "range": ["#ff0000","#00e600","#0000ff","#ffff00"]}, "legend": null},
                    "size": {"field": "c", "type": "nominal", "scale": {"domain": ["r","g","b","y"], "range": [85,64,58,90]}, "legend": null}}},
      {"data": {"name": "pts3"}, "mark": {"type": "text", "text": "c", "fontSize": 7, "color": "white", "font": "Liberation Sans", "baseline": "middle", "align": "center"},
       "encoding": {"x": {"field": "x", "type": "quantitative", "scale": {"domain": [-0.2, 1.4], "nice": false, "zero": false}, "axis": null},
                    "y": {"field": "y", "type": "quantitative", "scale": {"domain": [-0.4, 1], "nice": false, "zero": false}, "axis": null}}},
      {"data": {"name": "pts3"}, "mark": {"type": "point", "opacity": 0},
       "encoding": {"x": {"field": "x", "type": "quantitative", "scale": {"domain": [-0.2, 1.4], "nice": false, "zero": false}, "axis": {"orient": "top", "title": null, "labels": false, "values": [-0.2,0,0.2,0.4,0.6,0.8,1,1.2,1.4]}},
                    "y": {"field": "y", "type": "quantitative", "scale": {"domain": [-0.4, 1], "nice": false, "zero": false}, "axis": {"orient": "right", "title": null, "labels": false, "values": [-0.4,-0.2,0,0.2,0.4,0.6,0.8,1]}}}}
    ],
    "resolve": {"axis": {"x": "independent", "y": "independent"}}
  }
]
}
